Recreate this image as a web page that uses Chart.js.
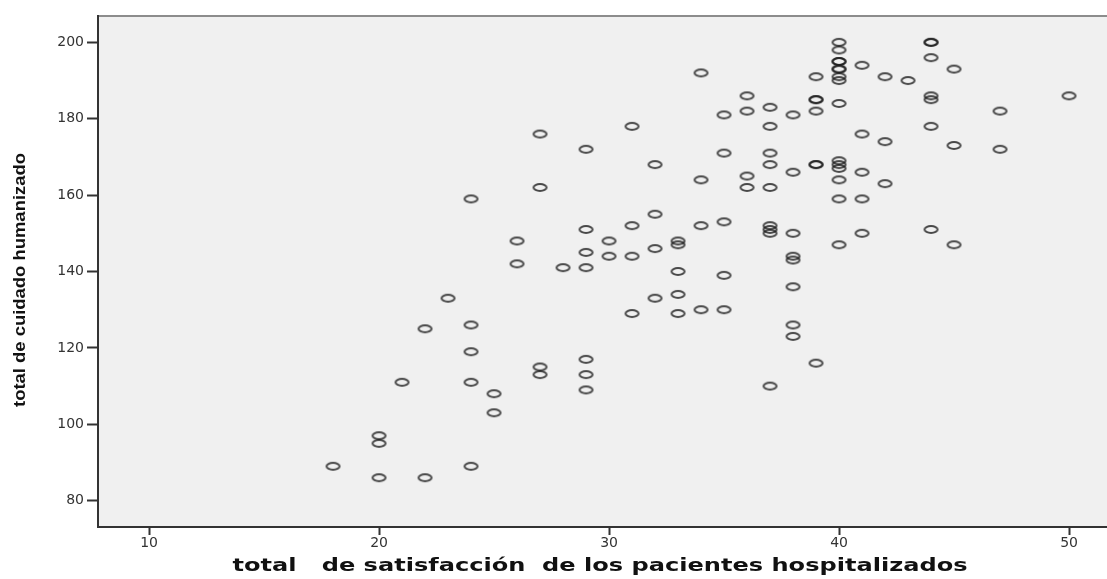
<!DOCTYPE html>
<html>
<head>
<meta charset="utf-8">
<script src="https://cdn.jsdelivr.net/npm/chart.js@4"></script>
<style>
  html, body { margin: 0; padding: 0; background: #fff; }
  #wrap { width: 1107px; height: 579px; }
</style>
</head>
<body>
<div id="wrap"><canvas id="scatter" width="1107" height="579"></canvas></div>
<script>
// total de satisfacción (x) and total de cuidado humanizado (y), one pair per patient
const satisfaccion = [
  18,
  20, 20, 20,
  21,
  22, 22,
  23,
  24, 24, 24, 24, 24,
  25, 25,
  26, 26,
  27, 27, 27, 27,
  28,
  29, 29, 29, 29, 29, 29, 29,
  30, 30,
  31, 31, 31, 31,
  32, 32, 32, 32,
  33, 33, 33, 33, 33,
  34, 34, 34, 34,
  35, 35, 35, 35, 35,
  36, 36, 36, 36,
  37, 37, 37, 37, 37, 37, 37, 37, 37,
  38, 38, 38, 38, 38, 38, 38, 38,
  39, 39, 39, 39, 39, 39, 39,
  40, 40, 40, 40, 40, 40, 40, 40, 40, 40, 40, 40, 40, 40, 40,
  41, 41, 41, 41, 41,
  42, 42, 42,
  43,
  44, 44, 44, 44, 44, 44, 44,
  45, 45, 45,
  47, 47,
  50
];
const cuidado = [
  89,
  97, 95, 86,
  111,
  125, 86,
  133,
  159, 126, 119, 111, 89,
  108, 103,
  148, 142,
  176, 162, 115, 113,
  141,
  172, 151, 145, 141, 117, 113, 109,
  148, 144,
  178, 152, 144, 129,
  168, 155, 146, 133,
  148, 147, 140, 134, 129,
  192, 164, 152, 130,
  181, 171, 153, 139, 130,
  186, 182, 165, 162,
  183, 178, 171, 168, 162, 152, 151, 150, 110,
  181, 166, 150, 144, 143, 136, 126, 123,
  191, 185, 185, 182, 168, 168, 116,
  200, 198, 195, 195, 193, 193, 191, 190, 184, 169, 168, 167, 164, 159, 147,
  194, 176, 166, 159, 150,
  191, 174, 163,
  190,
  200, 200, 196, 186, 185, 178, 151,
  193, 173, 147,
  182, 172,
  186
];
const xTicks = [10, 20, 30, 40, 50];
const yTicks = [80, 100, 120, 140, 160, 180, 200];
const xTitle = "total   de satisfacción  de los pacientes hospitalizados";
const yTitle = "total de cuidado humanizado";

const points = satisfaccion.map((x, i) => ({ x: x, y: cuidado[i] }));

// SPSS-like hollow marker, a bit wider than tall
function makeMarker() {
  const c = document.createElement("canvas");
  c.width = 17;
  c.height = 11;
  const g = c.getContext("2d");
  g.strokeStyle = "rgba(30,30,30,0.8)";
  g.lineWidth = 2;
  g.beginPath();
  g.ellipse(8.5, 5.5, 6.5, 3.5, 0, 0, Math.PI * 2);
  g.stroke();
  return c;
}

const plotFrame = {
  id: "plotFrame",
  beforeDraw(chart) {
    const { ctx, chartArea: a } = chart;
    ctx.save();
    ctx.fillStyle = "#f0f0f0";
    ctx.fillRect(a.left, a.top, a.right - a.left, a.bottom - a.top);
    ctx.strokeStyle = "#8c8c8c";
    ctx.lineWidth = 2;
    ctx.beginPath();
    ctx.moveTo(a.left, a.top);
    ctx.lineTo(a.right, a.top);
    ctx.stroke();
    ctx.restore();
  },
};

// axis titles are stretched sideways in the original export, so draw them by hand
function stretchedText(ctx, text, font, length, cx, cy, angle) {
  ctx.save();
  ctx.font = font;
  ctx.fillStyle = "#111";
  ctx.textAlign = "center";
  ctx.textBaseline = "middle";
  const w = ctx.measureText(text).width;
  ctx.translate(cx, cy);
  ctx.rotate(angle);
  ctx.scale(length / w, 1);
  ctx.fillText(text, 0, 0);
  ctx.restore();
}

const axisTitles = {
  id: "axisTitles",
  afterDraw(chart) {
    const ctx = chart.ctx;
    stretchedText(ctx, xTitle, "bold 17px 'DejaVu Sans'", 735, 600, 567, 0);
    stretchedText(ctx, yTitle, "bold 16px 'Liberation Sans', Arial, sans-serif", 254, 21, 280, -Math.PI / 2);
  },
};

new Chart(document.getElementById("scatter"), {
  type: "scatter",
  data: {
    datasets: [
      {
        data: points,
        pointStyle: makeMarker(),
        pointRadius: 6,
        pointHoverRadius: 6,
      },
    ],
  },
  options: {
    responsive: false,
    devicePixelRatio: 1,
    animation: false,
    layout: { autoPadding: false, padding: { top: 16, left: 0, right: 0, bottom: 0 } },
    plugins: {
      legend: { display: false },
      tooltip: { enabled: false },
    },
    scales: {
      x: {
        type: "linear",
        min: 7.78,
        max: 51.65,
        afterFit(scale) {
          scale.height = 52;
          scale.paddingLeft = 0;
          scale.paddingRight = 0;
        },
        afterBuildTicks(scale) { scale.ticks = xTicks.map((v) => ({ value: v })); },
        grid: { drawOnChartArea: false, tickLength: 8, tickColor: "#333", tickWidth: 2 },
        border: { color: "#333", width: 2 },
        ticks: {
          padding: 0,
          color: "#333",
          maxRotation: 0,
          font: { family: "DejaVu Sans", size: 14 },
        },
      },
      y: {
        type: "linear",
        min: 73.1,
        max: 206.9,
        afterFit(scale) {
          scale.width = 98;
          scale.paddingTop = 0;
          scale.paddingBottom = 0;
        },
        afterBuildTicks(scale) { scale.ticks = yTicks.map((v) => ({ value: v })); },
        grid: { drawOnChartArea: false, tickLength: 11, tickColor: "#333", tickWidth: 2 },
        border: { color: "#333", width: 2 },
        ticks: {
          padding: 3,
          color: "#333",
          font: { family: "DejaVu Sans", size: 14 },
        },
      },
    },
  },
  plugins: [plotFrame, axisTitles],
});
</script>
</body>
</html>
